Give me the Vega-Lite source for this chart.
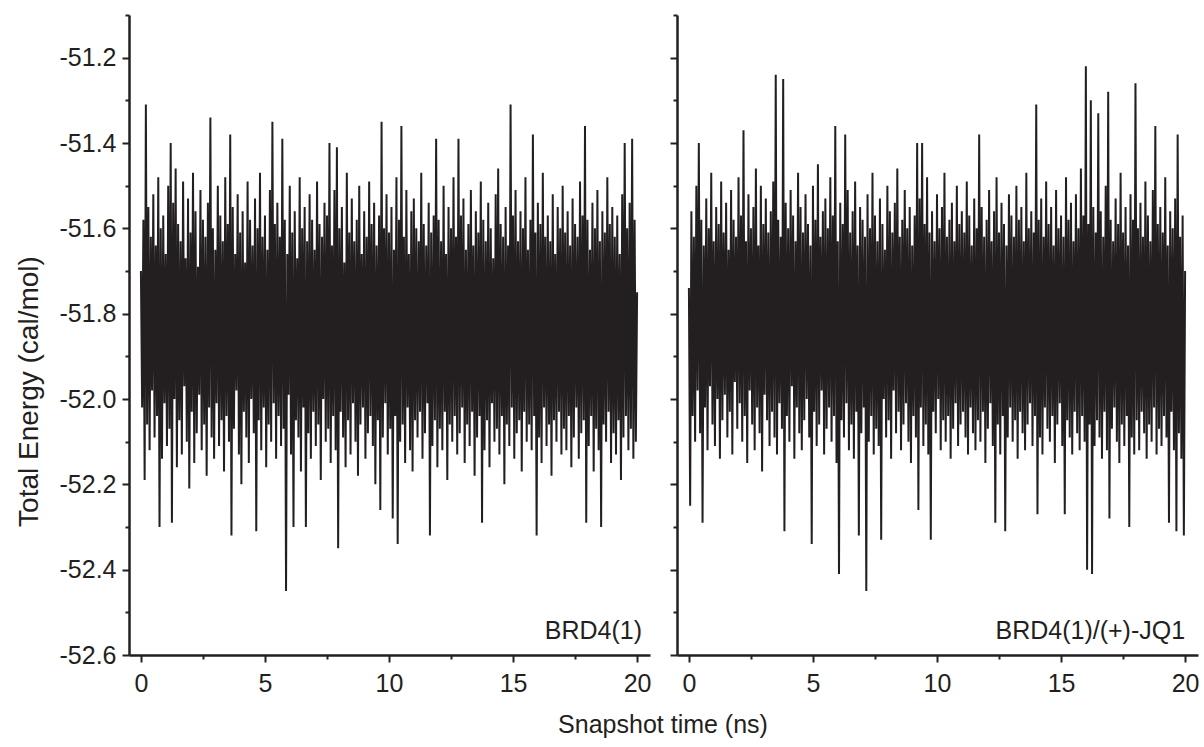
{
"$schema": "https://vega.github.io/schema/vega-lite/v6.json",
"background": "white",
"padding": {"left": 15, "top": 3, "right": 5, "bottom": 5},
"config": {
 "locale": {"number": {"decimal": ".", "thousands": ",", "grouping": [3], "currency": ["$", ""], "minus": "-"}},
 "view": {"stroke": null},
 "font": "Liberation Sans",
 "axis": {"grid": false, "domainColor": "#231f20", "domainWidth": 2.5, "tickColor": "#231f20", "tickWidth": 2, "labelColor": "#231f20", "labelFont": "Liberation Sans", "labelFontSize": 25, "titleFont": "Liberation Sans", "titleFontSize": 28, "titleFontWeight": "normal", "titleColor": "#231f20"}
},
"title": {"text": "Snapshot time (ns)", "orient": "bottom", "anchor": "middle", "fontSize": 25, "fontWeight": "normal", "font": "Liberation Sans", "color": "#231f20", "dx": 56, "offset": 17},
"spacing": 17,
"data": {"values": [
{"t":0,"a":-51.70,"b":-51.74},{"t":0.05,"a":-52.02,"b":-52.25},{"t":0.1,"a":-51.58,"b":-51.56},{"t":0.15,"a":-52.19,"b":-52.04},{"t":0.2,"a":-51.31,"b":-51.62},{"t":0.25,"a":-52.06,"b":-52.10},{"t":0.3,"a":-51.55,"b":-51.50},{"t":0.35,"a":-52.12,"b":-51.98},{"t":0.4,"a":-51.62,"b":-51.40},{"t":0.45,"a":-51.98,"b":-52.08},
{"t":0.5,"a":-51.52,"b":-51.58},{"t":0.55,"a":-52.09,"b":-52.29},{"t":0.6,"a":-51.64,"b":-51.64},{"t":0.65,"a":-52.04,"b":-52.02},{"t":0.7,"a":-51.48,"b":-51.53},{"t":0.75,"a":-52.30,"b":-52.12},{"t":0.8,"a":-51.60,"b":-51.60},{"t":0.85,"a":-52.14,"b":-51.97},{"t":0.9,"a":-51.57,"b":-51.47},{"t":0.95,"a":-52.01,"b":-52.06},
{"t":1,"a":-51.66,"b":-51.63},{"t":1.05,"a":-52.11,"b":-52.11},{"t":1.1,"a":-51.50,"b":-51.55},{"t":1.15,"a":-52.07,"b":-52.00},{"t":1.2,"a":-51.40,"b":-51.59},{"t":1.25,"a":-52.29,"b":-52.14},{"t":1.3,"a":-51.54,"b":-51.49},{"t":1.35,"a":-52.00,"b":-52.05},{"t":1.4,"a":-51.46,"b":-51.61},{"t":1.45,"a":-52.16,"b":-51.99},
{"t":1.5,"a":-51.59,"b":-51.54},{"t":1.55,"a":-52.05,"b":-52.09},{"t":1.6,"a":-51.63,"b":-51.65},{"t":1.65,"a":-52.13,"b":-52.03},{"t":1.7,"a":-51.49,"b":-51.51},{"t":1.75,"a":-51.97,"b":-52.13},{"t":1.8,"a":-51.67,"b":-51.58},{"t":1.85,"a":-52.10,"b":-51.96},{"t":1.9,"a":-51.53,"b":-51.62},{"t":1.95,"a":-52.21,"b":-52.07},
{"t":2,"a":-51.61,"b":-51.48},{"t":2.05,"a":-52.03,"b":-52.01},{"t":2.1,"a":-51.47,"b":-51.57},{"t":2.15,"a":-52.15,"b":-52.10},{"t":2.2,"a":-51.56,"b":-51.37},{"t":2.25,"a":-52.08,"b":-52.04},{"t":2.3,"a":-51.69,"b":-51.63},{"t":2.35,"a":-51.99,"b":-52.15},{"t":2.4,"a":-51.51,"b":-51.52},{"t":2.45,"a":-52.12,"b":-51.98},
{"t":2.5,"a":-51.58,"b":-51.60},{"t":2.55,"a":-52.06,"b":-52.06},{"t":2.6,"a":-51.62,"b":-51.55},{"t":2.65,"a":-52.18,"b":-52.12},{"t":2.7,"a":-51.54,"b":-51.46},{"t":2.75,"a":-52.02,"b":-52.02},{"t":2.8,"a":-51.34,"b":-51.64},{"t":2.85,"a":-52.09,"b":-52.08},{"t":2.9,"a":-51.60,"b":-51.50},{"t":2.95,"a":-52.14,"b":-52.17},
{"t":3,"a":-51.65,"b":-51.59},{"t":3.05,"a":-52.01,"b":-51.99},{"t":3.1,"a":-51.50,"b":-51.53},{"t":3.15,"a":-52.11,"b":-52.05},{"t":3.2,"a":-51.57,"b":-51.61},{"t":3.25,"a":-52.05,"b":-52.11},{"t":3.3,"a":-51.63,"b":-51.56},{"t":3.35,"a":-52.17,"b":-52.03},{"t":3.4,"a":-51.48,"b":-51.49},{"t":3.45,"a":-52.04,"b":-52.09},
{"t":3.5,"a":-51.59,"b":-51.24},{"t":3.55,"a":-52.10,"b":-52.13},{"t":3.6,"a":-51.38,"b":-51.58},{"t":3.65,"a":-52.32,"b":-52.01},{"t":3.7,"a":-51.55,"b":-51.62},{"t":3.75,"a":-52.07,"b":-52.07},{"t":3.8,"a":-51.66,"b":-51.25},{"t":3.85,"a":-51.98,"b":-52.31},{"t":3.9,"a":-51.52,"b":-51.54},{"t":3.95,"a":-52.13,"b":-52.04},
{"t":4,"a":-51.61,"b":-51.60},{"t":4.05,"a":-52.20,"b":-52.10},{"t":4.1,"a":-51.56,"b":-51.51},{"t":4.15,"a":-52.03,"b":-51.97},{"t":4.2,"a":-51.68,"b":-51.57},{"t":4.25,"a":-52.09,"b":-52.14},{"t":4.3,"a":-51.49,"b":-51.63},{"t":4.35,"a":-52.15,"b":-52.02},{"t":4.4,"a":-51.58,"b":-51.47},{"t":4.45,"a":-52.00,"b":-52.08},
{"t":4.5,"a":-51.64,"b":-51.55},{"t":4.55,"a":-52.08,"b":-52.12},{"t":4.6,"a":-51.53,"b":-51.61},{"t":4.65,"a":-52.31,"b":-52.05},{"t":4.7,"a":-51.60,"b":-51.52},{"t":4.75,"a":-52.05,"b":-52.00},{"t":4.8,"a":-51.47,"b":-51.59},{"t":4.85,"a":-52.12,"b":-52.09},{"t":4.9,"a":-51.62,"b":-51.64},{"t":4.95,"a":-52.02,"b":-52.34},
{"t":5,"a":-51.57,"b":-51.50},{"t":5.05,"a":-52.16,"b":-52.03},{"t":5.1,"a":-51.65,"b":-51.58},{"t":5.15,"a":-52.06,"b":-52.11},{"t":5.2,"a":-51.51,"b":-51.45},{"t":5.25,"a":-52.10,"b":-52.06},{"t":5.3,"a":-51.35,"b":-51.62},{"t":5.35,"a":-52.01,"b":-51.98},{"t":5.4,"a":-51.59,"b":-51.56},{"t":5.45,"a":-52.14,"b":-52.13},
{"t":5.5,"a":-51.54,"b":-51.53},{"t":5.55,"a":-52.04,"b":-52.07},{"t":5.6,"a":-51.62,"b":-51.60},{"t":5.65,"a":-52.11,"b":-52.02},{"t":5.7,"a":-51.39,"b":-51.48},{"t":5.75,"a":-52.07,"b":-52.10},{"t":5.8,"a":-51.58,"b":-51.57},{"t":5.85,"a":-52.45,"b":-52.04},{"t":5.9,"a":-51.66,"b":-51.36},{"t":5.95,"a":-51.99,"b":-52.15},
{"t":6,"a":-51.50,"b":-51.63},{"t":6.05,"a":-52.13,"b":-52.41},{"t":6.1,"a":-51.61,"b":-51.54},{"t":6.15,"a":-52.30,"b":-52.05},{"t":6.2,"a":-51.56,"b":-51.59},{"t":6.25,"a":-52.05,"b":-52.09},{"t":6.3,"a":-51.67,"b":-51.38},{"t":6.35,"a":-52.09,"b":-52.01},{"t":6.4,"a":-51.48,"b":-51.51},{"t":6.45,"a":-52.17,"b":-52.12},
{"t":6.5,"a":-51.60,"b":-51.61},{"t":6.55,"a":-52.02,"b":-52.06},{"t":6.6,"a":-51.55,"b":-51.56},{"t":6.65,"a":-52.30,"b":-52.14},{"t":6.7,"a":-51.63,"b":-51.49},{"t":6.75,"a":-52.08,"b":-52.03},{"t":6.8,"a":-51.52,"b":-51.64},{"t":6.85,"a":-52.14,"b":-52.32},{"t":6.9,"a":-51.58,"b":-51.55},{"t":6.95,"a":-52.03,"b":-52.08},
{"t":7,"a":-51.65,"b":-51.58},{"t":7.05,"a":-52.11,"b":-52.02},{"t":7.1,"a":-51.49,"b":-51.62},{"t":7.15,"a":-52.06,"b":-52.45},{"t":7.2,"a":-51.59,"b":-51.52},{"t":7.25,"a":-52.19,"b":-52.10},{"t":7.3,"a":-51.62,"b":-51.60},{"t":7.35,"a":-52.00,"b":-52.04},{"t":7.4,"a":-51.54,"b":-51.47},{"t":7.45,"a":-52.10,"b":-52.13},
{"t":7.5,"a":-51.57,"b":-51.57},{"t":7.55,"a":-52.07,"b":-52.07},{"t":7.6,"a":-51.40,"b":-51.63},{"t":7.65,"a":-52.15,"b":-52.11},{"t":7.7,"a":-51.64,"b":-51.53},{"t":7.75,"a":-52.04,"b":-52.33},{"t":7.8,"a":-51.51,"b":-51.59},{"t":7.85,"a":-52.12,"b":-52.00},{"t":7.9,"a":-51.41,"b":-51.65},{"t":7.95,"a":-52.35,"b":-52.09},
{"t":8,"a":-51.60,"b":-51.50},{"t":8.05,"a":-52.03,"b":-52.05},{"t":8.1,"a":-51.55,"b":-51.56},{"t":8.15,"a":-52.09,"b":-52.14},{"t":8.2,"a":-51.68,"b":-51.61},{"t":8.25,"a":-52.16,"b":-51.98},{"t":8.3,"a":-51.47,"b":-51.54},{"t":8.35,"a":-52.05,"b":-52.08},{"t":8.4,"a":-51.61,"b":-51.46},{"t":8.45,"a":-52.13,"b":-52.03},
{"t":8.5,"a":-51.53,"b":-51.62},{"t":8.55,"a":-52.01,"b":-52.12},{"t":8.6,"a":-51.63,"b":-51.58},{"t":8.65,"a":-52.10,"b":-52.06},{"t":8.7,"a":-51.58,"b":-51.51},{"t":8.75,"a":-52.18,"b":-52.01},{"t":8.8,"a":-51.50,"b":-51.60},{"t":8.85,"a":-52.06,"b":-52.10},{"t":8.9,"a":-51.66,"b":-51.55},{"t":8.95,"a":-52.02,"b":-52.15},
{"t":9,"a":-51.56,"b":-51.64},{"t":9.05,"a":-52.14,"b":-52.04},{"t":9.1,"a":-51.62,"b":-51.57},{"t":9.15,"a":-52.08,"b":-52.09},{"t":9.2,"a":-51.49,"b":-51.40},{"t":9.25,"a":-52.04,"b":-52.26},{"t":9.3,"a":-51.59,"b":-51.53},{"t":9.35,"a":-52.11,"b":-52.02},{"t":9.4,"a":-51.54,"b":-51.40},{"t":9.45,"a":-52.20,"b":-52.11},
{"t":9.5,"a":-51.64,"b":-51.59},{"t":9.55,"a":-52.05,"b":-52.06},{"t":9.6,"a":-51.57,"b":-51.48},{"t":9.65,"a":-52.26,"b":-52.13},{"t":9.7,"a":-51.35,"b":-51.61},{"t":9.75,"a":-52.09,"b":-52.33},{"t":9.8,"a":-51.60,"b":-51.56},{"t":9.85,"a":-52.01,"b":-52.03},{"t":9.9,"a":-51.52,"b":-51.63},{"t":9.95,"a":-52.13,"b":-52.08},
{"t":10,"a":-51.61,"b":-51.52},{"t":10.05,"a":-52.07,"b":-52.00},{"t":10.1,"a":-51.55,"b":-51.60},{"t":10.15,"a":-52.28,"b":-52.12},{"t":10.2,"a":-51.65,"b":-51.55},{"t":10.25,"a":-52.04,"b":-52.05},{"t":10.3,"a":-51.48,"b":-51.47},{"t":10.35,"a":-52.34,"b":-52.10},{"t":10.4,"a":-51.58,"b":-51.62},{"t":10.45,"a":-52.10,"b":-52.04},
{"t":10.5,"a":-51.36,"b":-51.58},{"t":10.55,"a":-52.06,"b":-52.14},{"t":10.6,"a":-51.62,"b":-51.54},{"t":10.65,"a":-52.15,"b":-52.07},{"t":10.7,"a":-51.51,"b":-51.63},{"t":10.75,"a":-52.02,"b":-52.01},{"t":10.8,"a":-51.66,"b":-51.50},{"t":10.85,"a":-52.12,"b":-52.11},{"t":10.9,"a":-51.56,"b":-51.59},{"t":10.95,"a":-52.17,"b":-52.06},
{"t":11,"a":-51.53,"b":-51.56},{"t":11.05,"a":-52.05,"b":-52.03},{"t":11.1,"a":-51.60,"b":-51.61},{"t":11.15,"a":-52.09,"b":-52.09},{"t":11.2,"a":-51.63,"b":-51.49},{"t":11.25,"a":-52.03,"b":-52.13},{"t":11.3,"a":-51.47,"b":-51.57},{"t":11.35,"a":-52.14,"b":-52.02},{"t":11.4,"a":-51.59,"b":-51.64},{"t":11.45,"a":-52.08,"b":-52.08},
{"t":11.5,"a":-51.64,"b":-51.53},{"t":11.55,"a":-52.01,"b":-52.12},{"t":11.6,"a":-51.54,"b":-51.60},{"t":11.65,"a":-52.32,"b":-52.05},{"t":11.7,"a":-51.61,"b":-51.38},{"t":11.75,"a":-52.11,"b":-52.10},{"t":11.8,"a":-51.57,"b":-51.55},{"t":11.85,"a":-52.05,"b":-52.03},{"t":11.9,"a":-51.39,"b":-51.62},{"t":11.95,"a":-52.16,"b":-52.15},
{"t":12,"a":-51.58,"b":-51.58},{"t":12.05,"a":-52.07,"b":-52.07},{"t":12.1,"a":-51.63,"b":-51.51},{"t":12.15,"a":-52.12,"b":-52.01},{"t":12.2,"a":-51.50,"b":-51.63},{"t":12.25,"a":-52.03,"b":-52.11},{"t":12.3,"a":-51.66,"b":-51.56},{"t":12.35,"a":-52.19,"b":-52.29},{"t":12.4,"a":-51.55,"b":-51.48},{"t":12.45,"a":-52.06,"b":-52.06},
{"t":12.5,"a":-51.60,"b":-51.61},{"t":12.55,"a":-52.10,"b":-52.13},{"t":12.6,"a":-51.48,"b":-51.54},{"t":12.65,"a":-52.04,"b":-52.04},{"t":12.7,"a":-51.62,"b":-51.59},{"t":12.75,"a":-52.13,"b":-52.31},{"t":12.8,"a":-51.39,"b":-51.64},{"t":12.85,"a":-52.08,"b":-52.09},{"t":12.9,"a":-51.57,"b":-51.52},{"t":12.95,"a":-52.02,"b":-52.02},
{"t":13,"a":-51.53,"b":-51.57},{"t":13.05,"a":-52.15,"b":-52.10},{"t":13.1,"a":-51.65,"b":-51.62},{"t":13.15,"a":-52.06,"b":-52.05},{"t":13.2,"a":-51.59,"b":-51.50},{"t":13.25,"a":-52.11,"b":-52.14},{"t":13.3,"a":-51.51,"b":-51.58},{"t":13.35,"a":-52.03,"b":-52.03},{"t":13.4,"a":-51.64,"b":-51.55},{"t":13.45,"a":-52.18,"b":-52.08},
{"t":13.5,"a":-51.56,"b":-51.63},{"t":13.55,"a":-52.09,"b":-52.12},{"t":13.6,"a":-51.61,"b":-51.47},{"t":13.65,"a":-52.04,"b":-52.06},{"t":13.7,"a":-51.49,"b":-51.60},{"t":13.75,"a":-52.29,"b":-52.01},{"t":13.8,"a":-51.58,"b":-51.56},{"t":13.85,"a":-52.12,"b":-52.11},{"t":13.9,"a":-51.63,"b":-51.61},{"t":13.95,"a":-52.05,"b":-52.04},
{"t":14,"a":-51.54,"b":-51.31},{"t":14.05,"a":-52.16,"b":-52.27},{"t":14.1,"a":-51.60,"b":-51.58},{"t":14.15,"a":-52.01,"b":-52.09},{"t":14.2,"a":-51.67,"b":-51.53},{"t":14.25,"a":-52.10,"b":-52.13},{"t":14.3,"a":-51.52,"b":-51.62},{"t":14.35,"a":-52.07,"b":-52.02},{"t":14.4,"a":-51.46,"b":-51.49},{"t":14.45,"a":-52.13,"b":-52.07},
{"t":14.5,"a":-51.59,"b":-51.59},{"t":14.55,"a":-52.04,"b":-52.10},{"t":14.6,"a":-51.62,"b":-51.55},{"t":14.65,"a":-52.20,"b":-52.04},{"t":14.7,"a":-51.55,"b":-51.64},{"t":14.75,"a":-52.06,"b":-52.15},{"t":14.8,"a":-51.64,"b":-51.51},{"t":14.85,"a":-52.11,"b":-52.06},{"t":14.9,"a":-51.31,"b":-51.60},{"t":14.95,"a":-52.02,"b":-52.01},
{"t":15,"a":-51.57,"b":-51.57},{"t":15.05,"a":-52.14,"b":-52.11},{"t":15.1,"a":-51.51,"b":-51.62},{"t":15.15,"a":-52.08,"b":-52.27},{"t":15.2,"a":-51.63,"b":-51.48},{"t":15.25,"a":-52.05,"b":-52.05},{"t":15.3,"a":-51.56,"b":-51.58},{"t":15.35,"a":-52.17,"b":-52.09},{"t":15.4,"a":-51.60,"b":-51.54},{"t":15.45,"a":-52.03,"b":-52.13},
{"t":15.5,"a":-51.48,"b":-51.63},{"t":15.55,"a":-52.10,"b":-52.03},{"t":15.6,"a":-51.65,"b":-51.52},{"t":15.65,"a":-52.06,"b":-52.08},{"t":15.7,"a":-51.58,"b":-51.60},{"t":15.75,"a":-52.12,"b":-52.12},{"t":15.8,"a":-51.38,"b":-51.46},{"t":15.85,"a":-52.04,"b":-52.04},{"t":15.9,"a":-51.61,"b":-51.57},{"t":15.95,"a":-52.32,"b":-52.10},
{"t":16,"a":-51.54,"b":-51.22},{"t":16.05,"a":-52.09,"b":-52.40},{"t":16.1,"a":-51.59,"b":-51.59},{"t":16.15,"a":-52.15,"b":-52.06},{"t":16.2,"a":-51.47,"b":-51.30},{"t":16.25,"a":-52.02,"b":-52.41},{"t":16.3,"a":-51.62,"b":-51.55},{"t":16.35,"a":-52.11,"b":-52.11},{"t":16.4,"a":-51.57,"b":-51.61},{"t":16.45,"a":-52.06,"b":-52.05},
{"t":16.5,"a":-51.63,"b":-51.33},{"t":16.55,"a":-52.18,"b":-52.09},{"t":16.6,"a":-51.52,"b":-51.56},{"t":16.65,"a":-52.05,"b":-52.14},{"t":16.7,"a":-51.66,"b":-51.62},{"t":16.75,"a":-52.10,"b":-52.03},{"t":16.8,"a":-51.55,"b":-51.50},{"t":16.85,"a":-52.03,"b":-52.12},{"t":16.9,"a":-51.60,"b":-51.28},{"t":16.95,"a":-52.13,"b":-52.28},
{"t":17,"a":-51.50,"b":-51.58},{"t":17.05,"a":-52.07,"b":-52.07},{"t":17.1,"a":-51.61,"b":-51.63},{"t":17.15,"a":-52.12,"b":-52.02},{"t":17.2,"a":-51.56,"b":-51.53},{"t":17.25,"a":-52.04,"b":-52.10},{"t":17.3,"a":-51.64,"b":-51.59},{"t":17.35,"a":-52.16,"b":-52.15},{"t":17.4,"a":-51.53,"b":-51.47},{"t":17.45,"a":-52.09,"b":-52.06},
{"t":17.5,"a":-51.59,"b":-51.61},{"t":17.55,"a":-52.02,"b":-52.11},{"t":17.6,"a":-51.62,"b":-51.55},{"t":17.65,"a":-52.14,"b":-52.04},{"t":17.7,"a":-51.49,"b":-51.64},{"t":17.75,"a":-52.08,"b":-52.30},{"t":17.8,"a":-51.57,"b":-51.52},{"t":17.85,"a":-52.05,"b":-52.09},{"t":17.9,"a":-51.36,"b":-51.58},{"t":17.95,"a":-52.29,"b":-52.13},
{"t":18,"a":-51.58,"b":-51.26},{"t":18.05,"a":-52.11,"b":-52.05},{"t":18.1,"a":-51.65,"b":-51.60},{"t":18.15,"a":-52.04,"b":-52.12},{"t":18.2,"a":-51.54,"b":-51.54},{"t":18.25,"a":-52.17,"b":-52.03},{"t":18.3,"a":-51.60,"b":-51.62},{"t":18.35,"a":-52.07,"b":-52.08},{"t":18.4,"a":-51.51,"b":-51.49},{"t":18.45,"a":-52.12,"b":-52.14},
{"t":18.5,"a":-51.63,"b":-51.57},{"t":18.55,"a":-52.30,"b":-52.06},{"t":18.6,"a":-51.56,"b":-51.63},{"t":18.65,"a":-52.06,"b":-52.10},{"t":18.7,"a":-51.61,"b":-51.51},{"t":18.75,"a":-52.10,"b":-52.02},{"t":18.8,"a":-51.48,"b":-51.36},{"t":18.85,"a":-52.03,"b":-52.13},{"t":18.9,"a":-51.59,"b":-51.59},{"t":18.95,"a":-52.15,"b":-52.07},
{"t":19,"a":-51.55,"b":-51.55},{"t":19.05,"a":-52.08,"b":-52.11},{"t":19.1,"a":-51.62,"b":-51.61},{"t":19.15,"a":-52.13,"b":-52.04},{"t":19.2,"a":-51.57,"b":-51.48},{"t":19.25,"a":-52.05,"b":-52.09},{"t":19.3,"a":-51.66,"b":-51.64},{"t":19.35,"a":-52.19,"b":-52.29},{"t":19.4,"a":-51.52,"b":-51.56},{"t":19.45,"a":-52.09,"b":-52.03},
{"t":19.5,"a":-51.40,"b":-51.60},{"t":19.55,"a":-52.04,"b":-52.12},{"t":19.6,"a":-51.60,"b":-51.53},{"t":19.65,"a":-52.12,"b":-52.31},{"t":19.7,"a":-51.54,"b":-51.38},{"t":19.75,"a":-52.07,"b":-52.08},{"t":19.8,"a":-51.39,"b":-51.62},{"t":19.85,"a":-52.14,"b":-52.14},{"t":19.9,"a":-51.58,"b":-51.57},{"t":19.95,"a":-52.10,"b":-52.32},
{"t":20,"a":-51.75,"b":-51.70}
]},
"hconcat": [
 {
  "width": 521, "height": 640,
  "layer": [
   {"mark": {"type": "line", "color": "#231f20", "strokeWidth": 2, "strokeJoin": "bevel"},
    "encoding": {
     "x": {"field": "t", "type": "quantitative", "scale": {"domain": [-0.48, 20.52], "nice": false, "zero": false},
       "axis": {"title": null, "values": [0, 2.5, 5, 7.5, 10, 12.5, 15, 17.5, 20], "labelExpr": "datum.value % 5 === 0 ? format(datum.value, 'd') : ''", "tickSize": {"condition": {"test": "datum.value % 5 === 0", "value": 7}, "value": 4}, "labelPadding": 9, "labelFlush": false, "labelOverlap": false}},
     "y": {"field": "a", "type": "quantitative", "scale": {"domain": [-52.6, -51.1], "nice": false, "zero": false},
       "axis": {"title": "Total Energy (cal/mol)", "titleY": 376, "values": [-52.6, -52.5, -52.4, -52.3, -52.2, -52.1, -52.0, -51.9, -51.8, -51.7, -51.6, -51.5, -51.4, -51.3, -51.2, -51.1], "labelExpr": "abs(round(datum.value * 10)) % 2 === 0 ? format(datum.value, '.1f') : ''", "tickSize": {"condition": {"test": "abs(round(datum.value * 10)) % 2 === 0", "value": 7}, "value": 4}, "labelPadding": 6, "titlePadding": 16, "labelFlush": false, "labelOverlap": false}}
    }},
   {"data": {"values": [{"t": 20.2, "a": -52.562, "label": "BRD4(1)"}]},
    "mark": {"type": "text", "align": "right", "baseline": "alphabetic", "fontSize": 25, "font": "Liberation Sans", "color": "#231f20"},
    "encoding": {"x": {"field": "t", "type": "quantitative"}, "y": {"field": "a", "type": "quantitative"}, "text": {"field": "label"}}}
  ]
 },
 {
  "width": 521, "height": 640,
  "layer": [
   {"mark": {"type": "line", "color": "#231f20", "strokeWidth": 2, "strokeJoin": "bevel"},
    "encoding": {
     "x": {"field": "t", "type": "quantitative", "scale": {"domain": [-0.48, 20.52], "nice": false, "zero": false},
       "axis": {"title": null, "values": [0, 2.5, 5, 7.5, 10, 12.5, 15, 17.5, 20], "labelExpr": "datum.value % 5 === 0 ? format(datum.value, 'd') : ''", "tickSize": {"condition": {"test": "datum.value % 5 === 0", "value": 7}, "value": 4}, "labelPadding": 9, "labelFlush": false, "labelOverlap": false}},
     "y": {"field": "b", "type": "quantitative", "scale": {"domain": [-52.6, -51.1], "nice": false, "zero": false},
       "axis": {"title": null, "labels": false, "values": [-52.6, -52.5, -52.4, -52.3, -52.2, -52.1, -52.0, -51.9, -51.8, -51.7, -51.6, -51.5, -51.4, -51.3, -51.2, -51.1], "tickSize": {"condition": {"test": "abs(round(datum.value * 10)) % 2 === 0", "value": 7}, "value": 4}}}
    }},
   {"data": {"values": [{"t": 20.0, "b": -52.562, "label": "BRD4(1)/(+)-JQ1"}]},
    "mark": {"type": "text", "align": "right", "baseline": "alphabetic", "fontSize": 25, "font": "Liberation Sans", "color": "#231f20"},
    "encoding": {"x": {"field": "t", "type": "quantitative"}, "y": {"field": "b", "type": "quantitative"}, "text": {"field": "label"}}}
  ]
 }
]
}
